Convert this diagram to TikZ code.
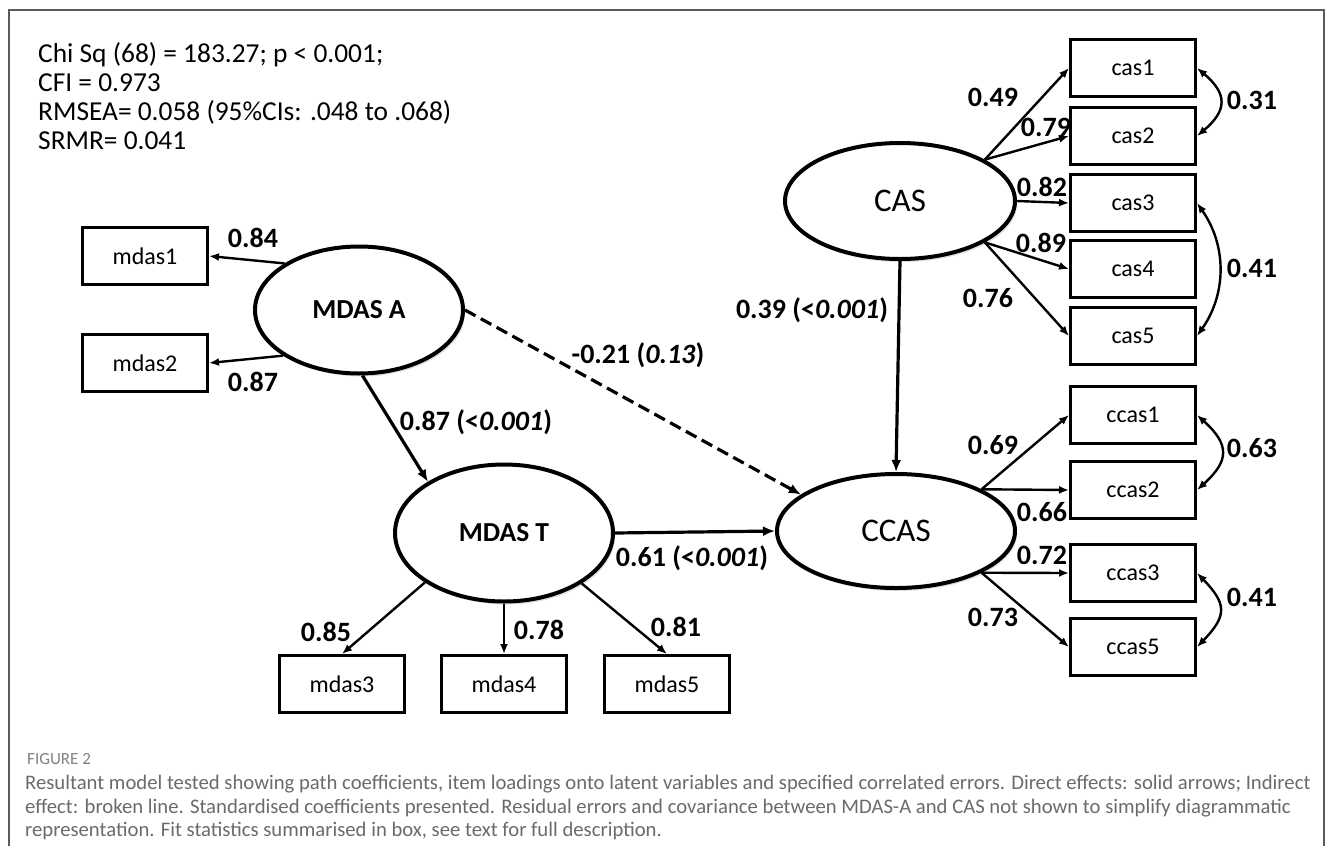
\documentclass[tikz,border=0pt]{standalone}
\usepackage{fontspec}
\setmainfont{Carlito}
\usetikzlibrary{arrows.meta,shadows,shapes.geometric}
\definecolor{framegrey}{HTML}{5A5A5A}
\definecolor{capgrey}{HTML}{6B6B6B}
\tikzset{
  item/.style={draw, line width=3pt, minimum width=125pt, minimum height=57pt, inner sep=0pt, font=\fontsize{24}{28}\selectfont},
  latent/.style={draw, ellipse, line width=4pt, inner sep=0pt, fill=white, drop shadow={opacity=0.25, shadow xshift=2pt, shadow yshift=-3pt}},
  coef/.style={font=\fontsize{28}{32}\selectfont\bfseries, inner sep=1pt},
  loading/.style={line width=2.4pt, -{Latex[length=10pt,width=8pt]}},
  struct/.style={line width=3.2pt, -{Latex[length=12pt,width=10pt]}},
  covar/.style={line width=2.4pt, {Latex[length=10pt,width=8pt]}-{Latex[length=10pt,width=8pt]}, looseness=1.5},
}
\begin{document}
\begin{tikzpicture}[x=1pt,y=1pt]
		%%%%% START %%%%%
		\useasboundingbox (0,0) rectangle (1333,-846);
		\fill[white] (0,0) rectangle (1333,-846);
		\draw[framegrey, line width=1.5pt] (9,-846) -- (9,-10) -- (1324,-10) -- (1324,-846);
		
		\node[anchor=north west, align=left, inner sep=0pt, font=\fontsize{27.4}{29}\selectfont] (fit) at (38,-42)
		  {Chi Sq (68) = 183.27; p < 0.001;\\ CFI = 0.973\\ RMSEA= 0.058 (95\%CIs: .048 to .068)\\ SRMR= 0.041};
		
		% latent variables
		\node[latent, minimum width=208pt, minimum height=127pt, font=\fontsize{27.5}{30}\selectfont\bfseries] (mdasA) at (359,-310) {MDAS A};
		\node[latent, minimum width=218pt, minimum height=137pt, font=\fontsize{27.5}{30}\selectfont\bfseries] (mdasT) at (504,-533) {MDAS T};
		\node[latent, minimum width=230pt, minimum height=116pt, font=\fontsize{33}{36}\selectfont] (cas) at (900,-201) {CAS};
		\node[latent, minimum width=238pt, minimum height=114pt, font=\fontsize{33}{36}\selectfont] (ccas) at (896,-531) {CCAS};
		
		% indicators
		\node[item] (mdas1) at (145,-256) {mdas1};
		\node[item] (mdas2) at (145,-363) {mdas2};
		\node[item] (mdas3) at (342,-684) {mdas3};
		\node[item] (mdas4) at (504,-684) {mdas4};
		\node[item] (mdas5) at (667,-684) {mdas5};
		\node[item] (cas1) at (1133,-68) {cas1};
		\node[item] (cas2) at (1133,-136) {cas2};
		\node[item] (cas3) at (1133,-203) {cas3};
		\node[item] (cas4) at (1133,-269) {cas4};
		\node[item] (cas5) at (1133,-336) {cas5};
		\node[item] (ccas1) at (1133,-415) {ccas1};
		\node[item] (ccas2) at (1133,-490) {ccas2};
		\node[item] (ccas3) at (1133,-573) {ccas3};
		\node[item] (ccas5) at (1133,-647) {ccas5};
		
		% loadings
		\draw[loading] (mdasA.148) -- (mdas1.east);
		\draw[loading] (mdasA.211) -- (mdas2.east);
		\draw[loading] (mdasT.212) -- (mdas3.north);
		\draw[loading] (mdasT.south) -- (mdas4.north);
		\draw[loading] (mdasT.-33) -- (mdas5.north);
		\draw[loading] (cas.26) -- (cas1.west);
		\draw[loading] (cas.26) -- (cas2.west);
		\draw[loading] (cas.east) -- (cas3.west);
		\draw[loading] (cas.-26) -- (cas4.west);
		\draw[loading] (cas.-26) -- (cas5.west);
		\draw[loading] (ccas.26) -- (ccas1.west);
		\draw[loading] (ccas.26) -- (ccas2.west);
		\draw[loading] (ccas.-26) -- (ccas3.west);
		\draw[loading] (ccas.-26) -- (ccas5.west);
		
		% structural paths
		\draw[struct] (mdasA.-87) -- (mdasT.146);
		\draw[struct] (mdasT.east) -- (ccas.west);
		\draw[struct] (cas.south) -- (ccas.north);
		\draw[struct, dash pattern=on 12pt off 6pt] (mdasA.east) -- (ccas.159);
		
		% correlated errors
		\draw[covar] (cas1.east) to[bend left=50] (cas2.east);
		\draw[covar] (cas3.east) to[bend left=35, looseness=1] (cas5.east);
		\draw[covar] (ccas1.east) to[bend left=48] (ccas2.east);
		\draw[covar] (ccas3.east) to[bend left=44] (ccas5.east);
		
		% coefficients
		\node[coef] (l84) at (253,-238) {0.84};
		\node[coef] (l87) at (253,-382) {0.87};
		\node[coef] (pAT) at (476,-422) {0.87 (<\textit{0.001})};
		\node[coef] (pAC) at (638,-355) {-0.21 (\textit{0.13})};
		\node[coef] (pCC) at (812,-310) {0.39 (<\textit{0.001})};
		\node[coef] (pTC) at (692,-558) {0.61 (<\textit{0.001})};
		\node[coef] (l85) at (326,-632) {0.85};
		\node[coef] (l78) at (539,-630) {0.78};
		\node[coef] (l81) at (676,-627) {0.81};
		\node[coef] (l49) at (993,-97) {0.49};
		\node[coef] (l79) at (1046,-127) {0.79};
		\node[coef] (l82) at (1042,-187) {0.82};
		\node[coef] (l89) at (1041,-243) {0.89};
		\node[coef] (l76) at (988,-298) {0.76};
		\node[coef] (c31) at (1252,-100) {0.31};
		\node[coef] (c41a) at (1252,-268) {0.41};
		\node[coef] (l69) at (993,-445) {0.69};
		\node[coef] (l66) at (1042,-512) {0.66};
		\node[coef] (l72) at (1042,-555) {0.72};
		\node[coef] (l73) at (993,-617) {0.73};
		\node[coef] (c63) at (1252,-448) {0.63};
		\node[coef] (c41b) at (1252,-597) {0.41};
		
		% caption
		\node[anchor=west, inner sep=0pt, text=capgrey!85, font=\fontsize{17}{20}\selectfont] (figno) at (27,-759.5) {FIGURE 2};
		\node[anchor=north west, align=left, inner sep=0pt, text=capgrey, font=\fontsize{20.7}{23.5}\selectfont] (caption) at (25,-775)
		  {Resultant model tested showing path coefficients, item loadings onto latent variables and specified correlated errors. Direct effects: solid arrows; Indirect\\
		   effect: broken line. Standardised coefficients presented. Residual errors and covariance between MDAS-A and CAS not shown to simplify diagrammatic\\
		   representation. Fit statistics summarised in box, see text for full description.};
		%%%%% END %%%%%
\end{tikzpicture}
\end{document}
